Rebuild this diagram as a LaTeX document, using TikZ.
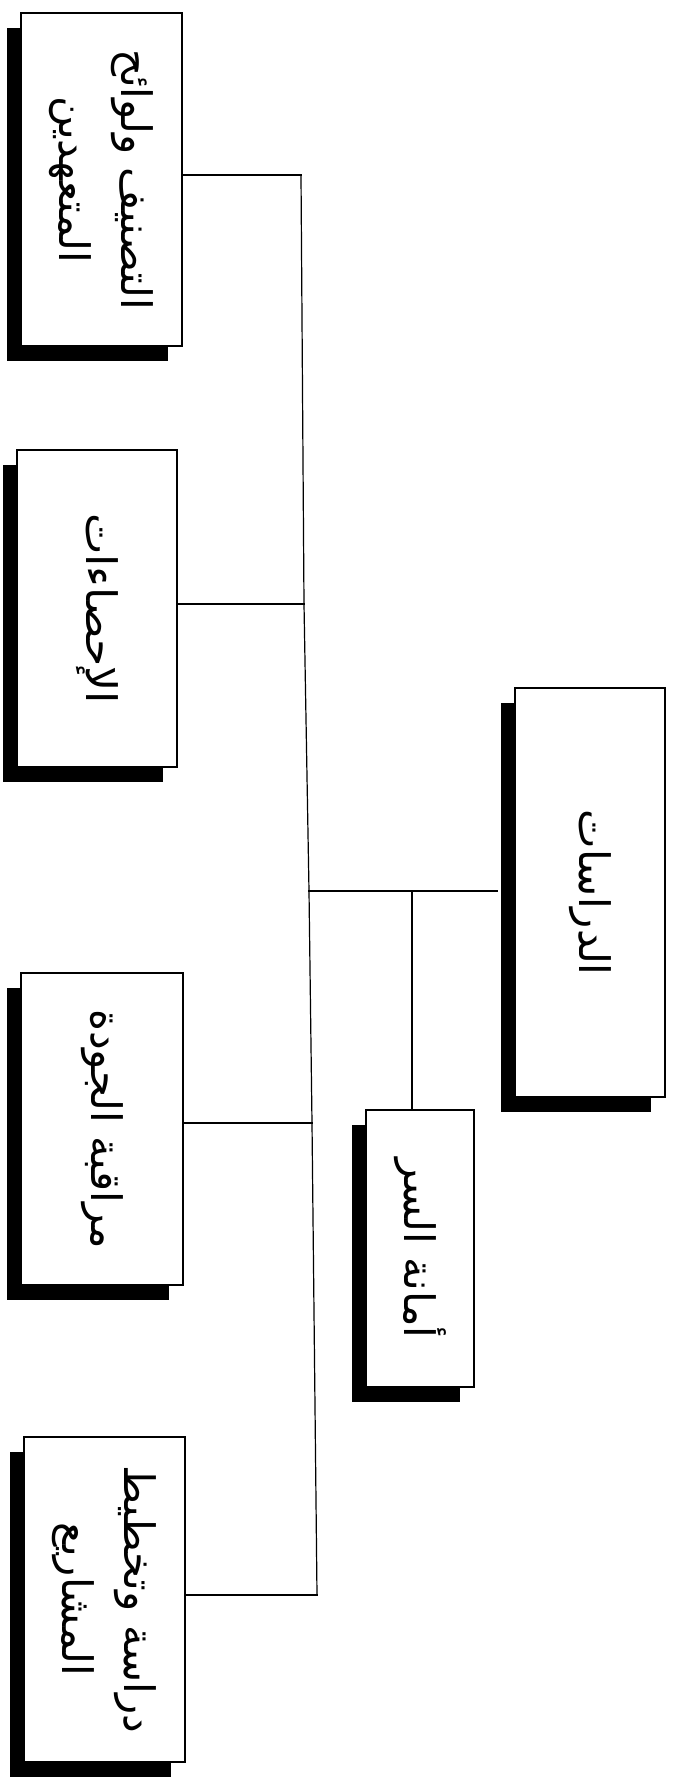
\documentclass[tikz,border=0pt]{standalone}
\usepackage{fontspec}
\newfontfamily\arabicfont[Script=Arabic]{DejaVu Sans}
\TeXXeTstate=1
\usetikzlibrary{shadows,calc}
\tikzset{
  unitbox/.style={draw=black, line width=1.4pt, fill=white, rectangle, inner sep=0pt,
    drop shadow={shadow xshift=-14pt, shadow yshift=-15pt, fill=black, opacity=1}},
  label/.style={rotate=-90, align=center, font=\arabicfont\fontsize{42}{62}\selectfont},
  link/.style={line width=1.2pt, line cap=rect}
}
\begin{document}
\begin{tikzpicture}[x=1pt,y=-1pt]
\useasboundingbox (0,0) rectangle (675,1786);
\node[unitbox, minimum width=161pt, minimum height=333pt] (b1) at (101.5,179.5) {};
\node[unitbox, minimum width=160pt, minimum height=317pt] (b2) at (97,608.5) {};
\node[unitbox, minimum width=162pt, minimum height=312pt] (b3) at (102,1129) {};
\node[unitbox, minimum width=161pt, minimum height=325pt] (b4) at (104.5,1599.5) {};
\node[unitbox, minimum width=150pt, minimum height=409pt] (main) at (590,892.5) {};
\node[unitbox, minimum width=108pt, minimum height=277pt] (b5) at (420,1248.5) {};

\node[label] (t1) at (b1) {\beginR التصنيف ولوائح\endR\\\beginR المتعهدين\endR};
\node[label] (t2) at (b2) {\scalebox{1.05}[1]{\beginR الإحصاءات\endR}};
\node[label] (t3) at (b3) {\beginR مراقبة الجودة\endR};
\node[label] (t4) at (b4) {\beginR دراسة وتخطيط\endR\\\beginR المشاريع\endR};
\node[label] (t5) at (main) {\beginR الدراسات\endR};
\node[label] (t6) at (b5) {\beginR أمانة السر\endR};

\coordinate (j1) at (301,175);
\coordinate (j2) at (304,604);
\coordinate (jm) at (309,891);
\coordinate (j3) at (312,1123);
\coordinate (j4) at (317,1595);
\coordinate (j5) at (412,891);

\draw[link] (j1) -- (j2) -- (jm) -- (j3) -- (j4);
\draw[link] (j1) -- (j1 -| b1.east);
\draw[link] (j2) -- (j2 -| b2.east);
\draw[link] (j3) -- (j3 -| b3.east);
\draw[link] (j4) -- (j4 -| b4.east);
\draw[link] (jm) -- ($(jm -| main.west)+(-17,0)$);
\draw[link] (j5) -- (j5 |- b5.north);
\end{tikzpicture}
\end{document}
